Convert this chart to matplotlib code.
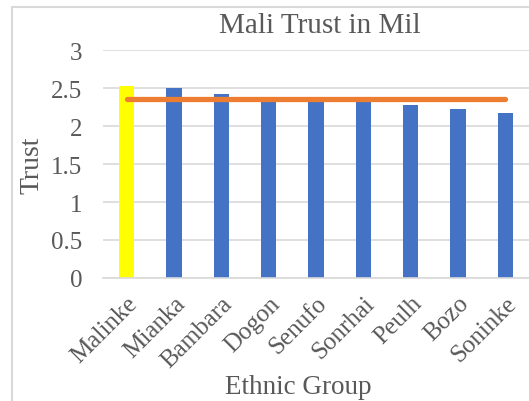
import matplotlib
matplotlib.use("Agg")
import matplotlib.pyplot as plt
from matplotlib.patches import Rectangle

groups = ["Malinke", "Mianka", "Bambara", "Dogon", "Senufo", "Sonrhai", "Peulh", "Bozo", "Soninke"]
trust = [2.52, 2.50, 2.42, 2.35, 2.34, 2.34, 2.28, 2.22, 2.17]
bar_colors = ["#FFFF00"] + ["#4472C4"] * 8
average = [2.35] * 9

plt.rcParams["font.family"] = ["Liberation Serif", "DejaVu Serif"]
txt = "#595959"

fig = plt.figure(figsize=(5.29, 4.02), dpi=100)
fig.patches.append(Rectangle((12 / 529, -0.1), 1.1, 1 - 8 / 402 + 0.1, transform=fig.transFigure,
                             fill=False, edgecolor="#d9d9d9", linewidth=1.5))
ax = fig.add_axes([103 / 529, 1 - 279 / 402, 426 / 529, 228 / 402])

x = range(len(groups))
ax.bar(x, trust, width=0.32, color=bar_colors, zorder=2)
ax.plot(x, average, color="#ED7D31", linewidth=3.8, solid_capstyle="round", zorder=3)

ax.set_xlim(-0.5, len(groups) - 0.5)
ax.set_ylim(0, 3)
ax.set_yticks([0, 0.5, 1, 1.5, 2, 2.5, 3])
ax.set_yticklabels(["0", "0.5", "1", "1.5", "2", "2.5", "3"])
ax.set_xticks(list(x))
ax.set_xticklabels(groups, rotation=45, ha="right", rotation_mode="anchor")
ax.tick_params(axis="both", length=0, labelsize=18, labelcolor=txt)
ax.tick_params(axis="y", pad=15)
ax.tick_params(axis="x", pad=10)
ax.grid(axis="y", color="#d9d9d9", linewidth=1.2, zorder=0)
ax.set_axisbelow(True)
for s in ["top", "right", "left"]:
    ax.spines[s].set_visible(False)
ax.spines["bottom"].set_color("#d9d9d9")
ax.spines["bottom"].set_linewidth(1.2)

fig.text(32 / 529, 1 - 165 / 402, "Trust", fontsize=20, color=txt, rotation=90, ha="center", va="center")
fig.text(298 / 529, 1 - 388 / 402, "Ethnic Group", fontsize=19.5, color=txt, ha="center", va="center")
fig.text(320 / 529, 1 - 26 / 402, "Mali Trust in Mil", fontsize=21, color=txt, ha="center", va="center")

fig.savefig("out.png", dpi=100)
